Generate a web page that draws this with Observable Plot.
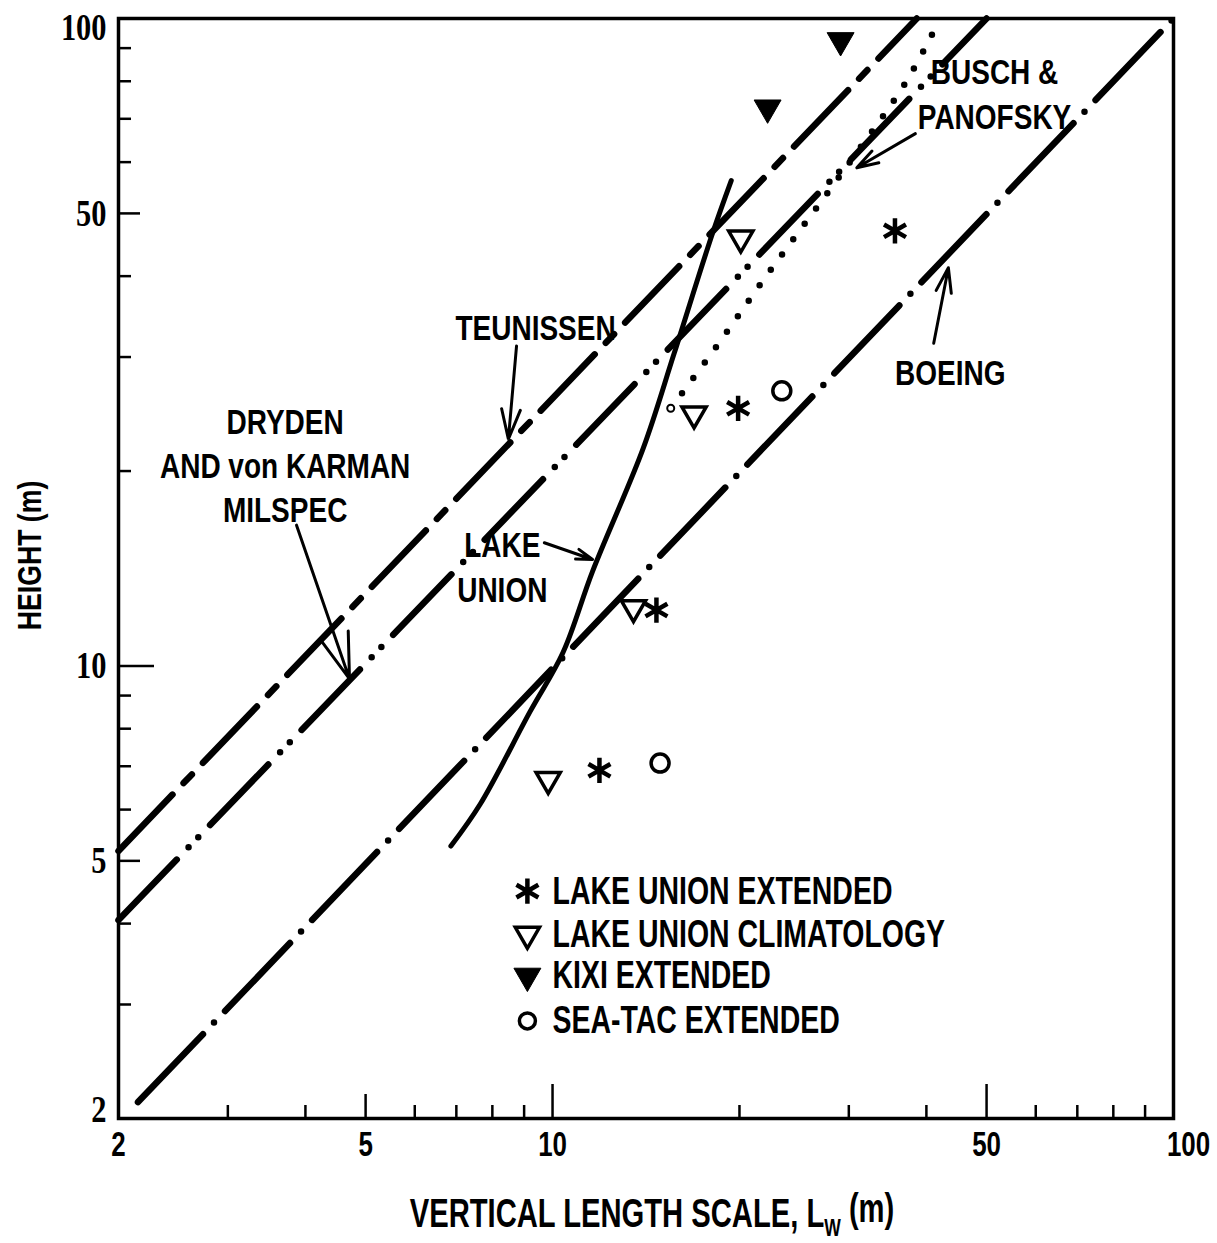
<!DOCTYPE html>
<html><head><meta charset="utf-8">
<script src="https://cdn.jsdelivr.net/npm/d3@7"></script>
<script src="https://cdn.jsdelivr.net/npm/@observablehq/plot@0.6"></script>
<style>
html,body{margin:0;padding:0;background:#fff;overflow:hidden}
</style>
</head><body><div id="chart"></div>
<script>
// ---- data (L = vertical length scale, z = height, both in m) ----
const teunissenL = [2, 38.6];
const teunissenZ = [5.18, 100];
const drydenL = [2, 50];
const drydenZ = [4.05, 100];
const boeingL = [2.15, 100];
const boeingZ = [2.12, 100];
const buschL = [15.5, 18.3, 22.0, 29.7, 37.2, 42.1];
const buschZ = [25.0, 31.0, 39.8, 58.9, 80.2, 100];
const lakeUnionL = [6.86, 7.65, 9.2, 10.4, 11.6, 14.0, 15.7, 18.1, 19.4];
const lakeUnionZ = [5.27, 6.12, 8.5, 10.5, 14.0, 21.7, 30.4, 46.6, 56.2];

const luExtL = [35.6, 19.9, 14.7, 11.9];
const luExtZ = [47.0, 25.0, 12.2, 6.9];
const luClimL = [20.1, 16.9, 13.5, 9.84];
const luClimZ = [45.8, 24.5, 12.3, 6.68];
const kixiL = [29.1, 22.2];
const kixiZ = [92.5, 72.8];
const seatacL = [23.4, 14.9];
const seatacZ = [26.6, 7.08];

const legendLabels = ["LAKE UNION EXTENDED", "LAKE UNION CLIMATOLOGY", "KIXI EXTENDED", "SEA-TAC EXTENDED"];
const legendSymbolL = 9.11;
const legendTextL = 10.0;
const legendZ = [4.49, 3.85, 3.32, 2.83];

const noteText = ["TEUNISSEN", "DRYDEN\nAND von KARMAN\nMILSPEC", "LAKE\nUNION", "BUSCH &\nPANOFSKY", "BOEING"];
const noteL = [9.39, 3.71, 8.3, 51.5, 43.7];
const noteZ = [33.5, 20.5, 14.3, 76.9, 28.6];

const arrowFromL = [8.75, 3.87, 9.70, 38.4, 41.1];
const arrowFromZ = [31.2, 16.5, 15.5, 66.4, 31.5];
const arrowToL = [8.49, 4.71, 11.6, 30.9, 43.4];
const arrowToZ = [22.4, 9.55, 14.6, 58.8, 41.2];

const innerTicks = [5, 10, 50];
const lowTick = [2];
const highTick = [100];
const minorTicks = [3, 4, 6, 7, 8, 9, 20, 30, 40, 60, 70, 80, 90];
const xTitle = "VERTICAL LENGTH SCALE, L_W (m)";
const yTitle = "HEIGHT (m)";

// ---- build tables ----
const pts = (L, Z) => L.map((l, i) => ({L: l, z: Z[i]}));
const teunissen = pts(teunissenL, teunissenZ);
const dryden = pts(drydenL, drydenZ);
const boeing = pts(boeingL, boeingZ);
const busch = pts(buschL, buschZ);
const lakeUnion = pts(lakeUnionL, lakeUnionZ);
const notes = noteText.map((t, i) => ({t, L: noteL[i], z: noteZ[i]}));
const arrows = arrowFromL.map((_, i) => ({x1: arrowFromL[i], y1: arrowFromZ[i], x2: arrowToL[i], y2: arrowToZ[i]}));
const legend = legendLabels.map((t, i) => ({t, z: legendZ[i], i}));

const FONT = "'Liberation Sans', Arimo, Arial, sans-serif";
const SERIF = "'Liberation Serif', 'DejaVu Serif', serif";
const LW = 6.5;
// font sizes are unique per text kind; each gets a horizontal condensation factor
const squeeze = {39: 0.73, 35: 0.8, 40: 0.73, 34: 0.785, 36: 0.72, 38: 0.8};

const xLab = {tickSize: 0, tickPadding: 12, tickFormat: d => String(d), fontSize: 36, fontWeight: "bold", label: null};
const yLab = {tickSize: 0, tickPadding: 12, tickFormat: d => String(d), fontSize: 38, fontWeight: "bold", fontFamily: SERIF, label: null};

const chart = Plot.plot({
  width: 1217,
  height: 1243,
  marginLeft: 118,
  marginRight: 44,
  marginTop: 18,
  marginBottom: 125,
  style: {background: "#fff", color: "#000", fontFamily: FONT},
  x: {type: "log", domain: [2, 100]},
  y: {type: "log", domain: [2, 100]},
  marks: [
    // axes: labels
    Plot.axisX({ticks: [...lowTick, ...innerTicks], ...xLab}),
    Plot.axisX({ticks: highTick, ...xLab, dx: 15}),
    Plot.axisY({ticks: innerTicks, ...yLab}),
    Plot.axisY({ticks: highTick, ...yLab, dy: 9}),
    Plot.axisY({ticks: lowTick, ...yLab, dy: -9}),
    // axes: inward ticks
    Plot.axisX({ticks: minorTicks, tickSize: -13, strokeWidth: 2.5, fill: "none", label: null}),
    Plot.axisX({ticks: [5], tickSize: -24, strokeWidth: 2.5, fill: "none", label: null}),
    Plot.axisX({ticks: [10, 50], tickSize: -34, strokeWidth: 2.5, fill: "none", label: null}),
    Plot.axisY({ticks: minorTicks, tickSize: -13, strokeWidth: 2.5, fill: "none", label: null}),
    Plot.axisY({ticks: [5, 50], tickSize: -22, strokeWidth: 2.5, fill: "none", label: null}),
    Plot.axisY({ticks: [10], tickSize: -36, strokeWidth: 2.5, fill: "none", label: null}),
    Plot.frame({strokeWidth: 3.5}),
    // curves
    Plot.line(teunissen, {x: "L", y: "z", strokeWidth: LW, strokeLinecap: "round", strokeDasharray: "78,16,12,16"}),
    Plot.line(dryden, {x: "L", y: "z", strokeWidth: LW, strokeLinecap: "round", strokeDasharray: "84,17,0,14,0,17"}),
    Plot.line(boeing, {x: "L", y: "z", strokeWidth: LW, strokeLinecap: "round", strokeDasharray: "94,16,0,16"}),
    Plot.line(busch, {x: "L", y: "z", strokeWidth: LW, strokeLinecap: "round", strokeDasharray: "0,19", curve: "catmull-rom"}),
    Plot.dot(busch.slice(0, 1), {x: "L", y: "z", r: 3.5, stroke: "#000", fill: "#fff", strokeWidth: 2}),
    Plot.line(lakeUnion, {x: "L", y: "z", strokeWidth: 5, curve: "catmull-rom"}),
    // points
    Plot.dot(pts(luExtL, luExtZ), {x: "L", y: "z", symbol: "asterisk", r: 12, stroke: "#000", strokeWidth: 4.5}),
    Plot.dot(pts(luClimL, luClimZ), {x: "L", y: "z", symbol: "triangle", rotate: 180, r: 9, stroke: "#000", fill: "none", strokeWidth: 3.5}),
    Plot.dot(pts(kixiL, kixiZ), {x: "L", y: "z", symbol: "triangle", rotate: 180, r: 10, fill: "#000", stroke: "#000", strokeWidth: 1}),
    Plot.dot(pts(seatacL, seatacZ), {x: "L", y: "z", symbol: "circle", r: 9, stroke: "#000", fill: "none", strokeWidth: 3.5}),
    // annotations
    Plot.text(notes, {x: "L", y: "z", text: "t", fontSize: 35, fontWeight: "bold", lineHeight: 1.26, fill: "#000"}),
    Plot.arrow(arrows, {x1: "x1", y1: "y1", x2: "x2", y2: "y2", strokeWidth: 3, headAngle: 35, headLength: 24}),
    // legend
    Plot.dot(legend.filter(d => d.i === 0), {x: () => legendSymbolL, y: "z", symbol: "asterisk", r: 12, stroke: "#000", strokeWidth: 4.5}),
    Plot.dot(legend.filter(d => d.i === 1), {x: () => legendSymbolL, y: "z", symbol: "triangle", rotate: 180, r: 9, stroke: "#000", fill: "none", strokeWidth: 3.5}),
    Plot.dot(legend.filter(d => d.i === 2), {x: () => legendSymbolL, y: "z", symbol: "triangle", rotate: 180, r: 10, fill: "#000", stroke: "#000", strokeWidth: 1}),
    Plot.dot(legend.filter(d => d.i === 3), {x: () => legendSymbolL, y: "z", symbol: "circle", r: 8, stroke: "#000", fill: "none", strokeWidth: 3.5}),
    Plot.text(legend, {x: () => legendTextL, y: "z", text: "t", textAnchor: "start", fontSize: 39, fontWeight: "bold", fill: "#000"}),
    // axis titles
    Plot.text([xTitle], {frameAnchor: "bottom", textAnchor: "middle", lineAnchor: "middle", dy: 96, dx: 6, text: d => d, fontSize: 40, fontWeight: "bold", fill: "#000"}),
    Plot.text([yTitle], {frameAnchor: "left", textAnchor: "middle", lineAnchor: "middle", dx: -88, dy: -13, rotate: -90, text: d => d, fontSize: 34, fontWeight: "bold", fill: "#000"})
  ]
});

// subscript W in x title
d3.select(chart).selectAll("text").filter(function() { return this.textContent === xTitle; })
  .each(function() {
    const t = d3.select(this);
    t.text(null);
    t.append("tspan").text("VERTICAL LENGTH SCALE, L");
    t.append("tspan").attr("font-size", "60%").attr("dy", "0.35em").text("W");
    t.append("tspan").attr("dy", "-0.35em").text(" (m)");
  });

// condensed lettering, as in the original typeset figure
d3.select(chart).selectAll("g[font-size]").each(function() {
  const s = squeeze[+this.getAttribute("font-size")];
  if (!s) return;
  d3.select(this).selectAll("text").each(function() {
    const tr = this.getAttribute("transform") || "";
    this.setAttribute("transform", tr + ` scale(${s},1)`);
  });
});

document.getElementById("chart").appendChild(chart);
</script>
</body></html>
